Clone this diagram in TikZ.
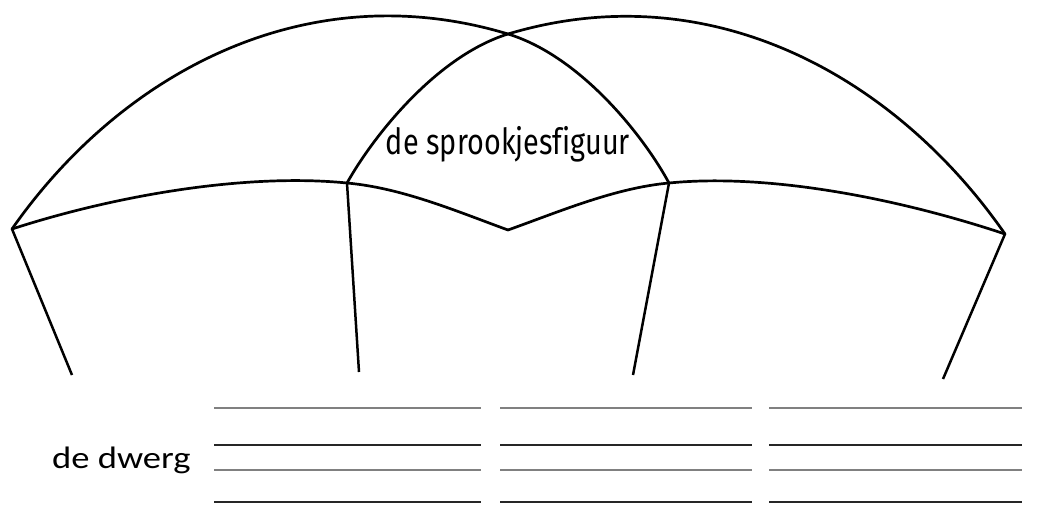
\documentclass[tikz,border=0pt]{standalone}
\usepackage{fontspec}
\setmainfont{Carlito}
\newfontfamily\figfont[Ligatures=NoCommon]{Fira Sans}
\usetikzlibrary{positioning}

\begin{document}
\begin{tikzpicture}[
  x=1pt, y=-1pt,
  hatline/.style={line width=2.7pt, line join=round, line cap=round},
  legline/.style={line width=2.5pt},
  darkline/.style={line width=2.8pt, black!85},
  paleline/.style={line width=2.8pt, black!50}
]
\useasboundingbox (0,0) rectangle (1052,504);

% corners of the hat
\coordinate (L) at (12,229);
\coordinate (A) at (347,183);
\coordinate (T) at (508,34);
\coordinate (B) at (669,183);
\coordinate (R) at (1005,234);
\coordinate (V) at (508,230);

% feet of the four legs
\coordinate (fL) at (72,375);
\coordinate (fA) at (359,372);
\coordinate (fB) at (633,375);
\coordinate (fR) at (943,379);

% two big arcs crossing at the top
\draw[hatline] (L) .. controls (121,73) and (306,-27) .. (T)
  .. controls (580,56) and (643,135) .. (B);
\draw[hatline] (R) .. controls (896,77) and (711,-27) .. (T)
  .. controls (437,56) and (374,135) .. (A);

% lower rim with the dip in the middle
\draw[hatline] (L) .. controls (117,195) and (247,173) .. (A)
  .. controls (402,188) and (456,211) .. (V);
\draw[hatline] (V) .. controls (561,211) and (615,188) .. (B)
  .. controls (770,173) and (900,199) .. (R);

% legs
\draw[legline] (L) -- (fL);
\draw[legline] (A) -- (fA);
\draw[legline] (B) -- (fB);
\draw[legline] (R) -- (fR);

\node[anchor=base, inner sep=0pt, font=\figfont\fontsize{36}{36}\selectfont] (fig) at (508,154) {\scalebox{0.8}[1]{de sprookjesfiguur}};
\node[anchor=base west, inner sep=0pt, font=\fontsize{31}{31}\selectfont] (dwerg) at (52,468) {\scalebox{1.18}[1]{de dwerg}};

% writing lines
\foreach \xa/\xb in {214/481, 500/752, 769/1022} {
  \draw[paleline] (\xa,408) -- (\xb,408);
  \draw[darkline] (\xa,445) -- (\xb,445);
  \draw[paleline] (\xa,470) -- (\xb,470);
  \draw[darkline] (\xa,502) -- (\xb,502);
}
\end{tikzpicture}
\end{document}
